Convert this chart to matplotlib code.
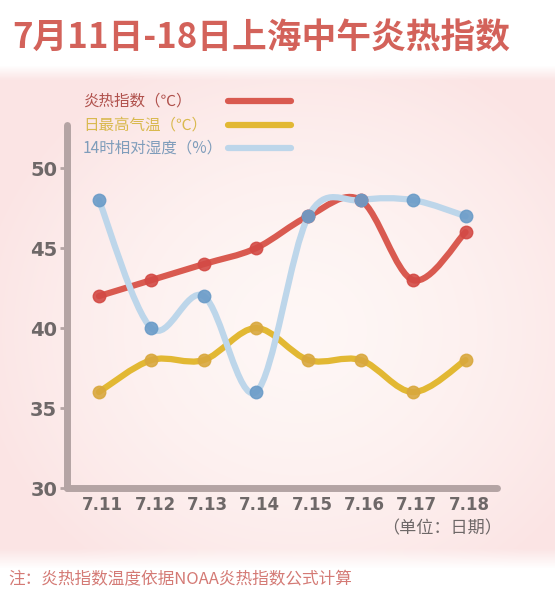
import numpy as np
import matplotlib
matplotlib.use("Agg")
import matplotlib.pyplot as plt
from matplotlib.path import Path
from matplotlib.patches import PathPatch

plt.rcParams['font.family'] = ['Noto Sans CJK SC', 'DejaVu Sans']

# ---- data ----
dates = ["7.11", "7.12", "7.13", "7.14", "7.15", "7.16", "7.17", "7.18"]
heat_index = [42, 43, 44, 45, 47, 48, 43, 46]
max_temp = [36, 38, 38, 40, 38, 38, 36, 38]
humidity = [48, 40, 42, 36, 47, 48, 48, 47]
yticks = [30, 35, 40, 45, 50]
series_names = ["炎热指数（℃）", "日最高气温（℃）", "14时相对湿度（%）"]
title = "7月11日-18日上海中午炎热指数"
unit_note = "（单位：日期）"
footnote = "注：炎热指数温度依据NOAA炎热指数公式计算"

W, H = 555, 606
fig = plt.figure(figsize=(W / 100, H / 100), dpi=100)

# ---- background ----
bg = fig.add_axes([0, 0, 1, 1])
yy, xx = np.mgrid[0:H, 0:W]
white = np.array([1.0, 1.0, 1.0])
pink = np.array([0.985, 0.895, 0.895])
center = np.array([0.997, 0.968, 0.962])
cx, cy = 300, 330
d = np.sqrt(((xx - cx) / 330.0) ** 2 + ((yy - cy) / 300.0) ** 2)
t = np.clip(d, 0, 1) ** 1.6
band = np.clip((yy - 65) / 15.0, 0, 1) * np.clip((568 - yy) / 20.0, 0, 1)
img = center * (1 - t[..., None]) + pink * t[..., None]
img = img * band[..., None] + white * (1 - band[..., None])
bg.imshow(img, extent=[0, W, H, 0], aspect='auto')
bg.set_xlim(0, W)
bg.set_ylim(H, 0)
bg.axis('off')

# ---- main axes ----
ax = fig.add_axes([67 / W, 1 - 488 / H, (497 - 67) / W, (488 - 125) / H])
ax.set_facecolor('none')
x = np.arange(len(dates))
ax.set_xlim(-0.61, 7.6)
ax.set_ylim(30, 52.7)


def smooth_path(xs, ys, tension=1 / 6):
    pts = np.column_stack([xs, ys]).astype(float)
    verts = [pts[0]]
    codes = [Path.MOVETO]
    n = len(pts)
    for i in range(n - 1):
        p0 = pts[i - 1] if i > 0 else pts[i]
        p1 = pts[i]
        p2 = pts[i + 1]
        p3 = pts[i + 2] if i + 2 < n else pts[i + 1]
        c1 = p1 + (p2 - p0) * tension
        c2 = p2 - (p3 - p1) * tension
        verts += [c1, c2, p2]
        codes += [Path.CURVE4] * 3
    return Path(verts, codes)


styles = [
    (max_temp, '#e2b833', '#d9a83e'),
    (heat_index, '#d95a50', '#d34a45'),
    (humidity, '#bdd6ea', '#6b9cc8'),
]
for vals, lc, mc in styles:
    p = smooth_path(x, vals)
    ax.add_patch(PathPatch(p, facecolor='none', edgecolor=lc, lw=4.5,
                           capstyle='round', joinstyle='round', zorder=3))
    ax.plot(x, vals, 'o', ms=9, color=mc, mec=mc, alpha=0.9, zorder=4)

for s in ['top', 'right']:
    ax.spines[s].set_visible(False)
for s in ['left', 'bottom']:
    ax.spines[s].set_color('#b4a4a4')
    ax.spines[s].set_linewidth(5)
    ax.spines[s].set_capstyle('round')

ax.set_yticks(yticks)
ax.set_yticklabels([str(v) for v in yticks], fontsize=14, fontweight='bold',
                   color='#6e6868', family='DejaVu Sans')
ax.tick_params(axis='y', length=5, width=2, color='#b4a4a4', pad=2)
ax.set_xticks(x + 0.07)
ax.set_xticklabels(dates, fontsize=12, fontweight='bold', color='#6e6868',
                   family='DejaVu Sans')
ax.tick_params(axis='x', length=0, pad=6)

# ---- texts ----
fig.text(261 / W, 1 - 38 / H, title, ha='center', va='center', fontsize=25,
         fontweight='bold', color='#d3625a')

leg_y = [101, 125, 148]
leg_tc = ['#b0514c', '#d9b94e', '#7f9dbb']
leg_lc = ['#d95a50', '#e2b833', '#bdd6ea']
for name, yv, tc, lc in zip(series_names, leg_y, leg_tc, leg_lc):
    fig.text(83 / W, 1 - yv / H, name, ha='left', va='center', fontsize=11.2,
             color=tc)
    fig.add_artist(plt.Line2D([228 / W, 291 / W], [1 - yv / H, 1 - yv / H],
                              transform=fig.transFigure, color=lc, lw=4.5,
                              solid_capstyle='round'))

fig.text(502 / W, 1 - 528 / H, unit_note, ha='right', va='center',
         fontsize=12.3, color='#6e6868')
fig.text(8 / W, 1 - 580 / H, footnote, ha='left', va='center',
         fontsize=12, color='#d47a75')

fig.savefig('out.png', dpi=100)
